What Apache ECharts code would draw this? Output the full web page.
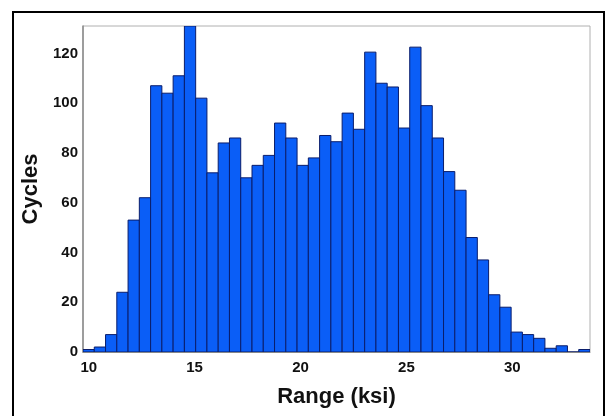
<!DOCTYPE html>
<html>
<head>
<meta charset="utf-8">
<script src="https://cdn.jsdelivr.net/npm/echarts@6/dist/echarts.min.js"></script>
<style>
  html, body { margin: 0; padding: 0; background: #fff; }
  #chart { width: 608px; height: 416px; }
</style>
</head>
<body>
<div id="chart"></div>
<script>
// histogram bins (ksi)
const binStart = 9.73;
const binWidth = 0.532;
// cycles per bin
const cycles = [
  1, 2, 7, 24, 53, 62, 107, 104, 111, 131,
  102, 72, 84, 86, 70, 75, 79, 92, 86, 75,
  78, 87, 84.5, 96, 89.5, 120.5, 108, 106.5, 90, 122.5,
  99, 86, 72.5, 65, 46, 37, 23, 18, 8, 7,
  5.5, 1.5, 2.5, 0, 1
];
const xTicks = [10, 15, 20, 25, 30];
const yTicks = [0, 20, 40, 60, 80, 100, 120];

const binData = cycles.map((c, i) => [binStart + i * binWidth, binStart + (i + 1) * binWidth, c]);

const chart = echarts.init(document.getElementById("chart"), null, { renderer: "canvas" });

const option = {
  animation: false,
  backgroundColor: "#fff",
  textStyle: { fontFamily: "Liberation Sans, Arial, sans-serif" },
  graphic: [
    {
      // outer black frame
      type: "rect",
      shape: { x: 13, y: 12, width: 591, height: 420 },
      style: { fill: "none", stroke: "#000", lineWidth: 2 },
      z: 100
    }
  ],
  grid: {
    left: 83,
    right: 18,
    top: 26,
    bottom: 64,
    show: true,
    borderColor: "#b0b0b0",
    borderWidth: 1
  },
  xAxis: {
    type: "value",
    min: binStart,
    max: binStart + cycles.length * binWidth,
    name: "Range (ksi)",
    nameLocation: "middle",
    nameGap: 34,
    nameTextStyle: { fontSize: 22, fontWeight: "bold", color: "#111" },
    splitLine: { show: false },
    axisTick: { show: false },
    axisLine: { show: true, lineStyle: { color: "#888", width: 1 } },
    axisLabel: {
      fontSize: 15,
      fontWeight: "bold",
      color: "#111",
      margin: 8,
      customValues: xTicks
    }
  },
  yAxis: {
    type: "value",
    min: 0,
    max: 131,
    interval: 20,
    name: "Cycles",
    nameLocation: "middle",
    nameGap: 40,
    nameTextStyle: { fontSize: 22, fontWeight: "bold", color: "#111" },
    splitLine: { show: false },
    axisTick: { show: false },
    axisLine: { show: true, lineStyle: { color: "#8a8a8a", width: 1.5 } },
    axisLabel: {
      fontSize: 15,
      fontWeight: "bold",
      color: "#111",
      margin: 5,
      customValues: yTicks
    }
  },
  series: [
    {
      type: "custom",
      data: binData,
      encode: { x: [0, 1], y: 2 },
      clip: true,
      renderItem: function (params, api) {
        const p0 = api.coord([api.value(0), 0]);
        const p1 = api.coord([api.value(1), api.value(2)]);
        return {
          type: "rect",
          shape: { x: p0[0], y: p1[1], width: p1[0] - p0[0], height: p0[1] - p1[1] },
          style: { fill: "#0a5ef7", stroke: "#0a1d6b", lineWidth: 1 }
        };
      }
    }
  ]
};

chart.setOption(option);
</script>
</body>
</html>
